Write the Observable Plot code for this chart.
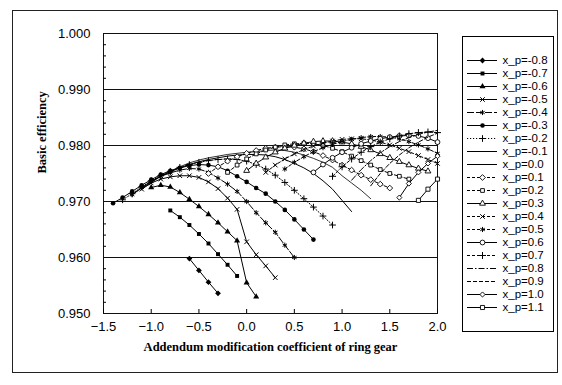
<!DOCTYPE html>
<html><head><meta charset="utf-8">
<script src="https://cdn.jsdelivr.net/npm/d3@7"></script>
<script src="https://cdn.jsdelivr.net/npm/@observablehq/plot@0.6"></script>
<style>
body{margin:0;background:#fff;}
#wrap{position:relative;width:562px;height:385px;overflow:hidden;}
#frame{position:absolute;left:12px;top:10px;width:546px;height:363px;border:1px solid #222;box-sizing:border-box;}
#chart{position:absolute;left:0;top:0;}
#legend{position:absolute;left:462px;top:36px;width:92px;height:296px;border:1px solid #000;box-sizing:border-box;background:#fff;}
#legend svg{position:absolute;left:0;top:0;}
</style></head><body>
<div id="wrap"><div id="frame"></div><div id="chart"></div><div id="legend"></div></div>
<script>
// ---- data ----
const xpLabels = ["x_p=-0.8","x_p=-0.7","x_p=-0.6","x_p=-0.5","x_p=-0.4","x_p=-0.3","x_p=-0.2","x_p=-0.1","x_p=0.0","x_p=0.1","x_p=0.2","x_p=0.3","x_p=0.4","x_p=0.5","x_p=0.6","x_p=0.7","x_p=0.8","x_p=0.9","x_p=1.0","x_p=1.1"];
const xGrid = [-1.4,-1.3,-1.2,-1.1,-1.0,-0.9,-0.8,-0.7,-0.6,-0.5,-0.4,-0.3,-0.2,-0.1,0.0,0.1,0.2,0.3,0.4,0.5,0.6,0.7,0.8,0.9,1.0,1.1,1.2,1.3,1.4,1.5,1.6,1.7,1.8,1.9,2.0];
const xStart = [-0.6,-0.8,-1.0,-1.1,-1.2,-1.4,-1.3,-1.2,-1.1,-0.4,-0.2,0.0,0.2,0.4,0.7,0.9,1.1,1.3,1.6,1.8];
const eff_m08 = [0.9598,0.9577,0.9556,0.9536];
const eff_m07 = [0.9684,0.9672,0.9658,0.9642,0.9625,0.9606,0.9587,0.9567];
const eff_m06 = [0.9725,0.9729,0.9726,0.9716,0.9704,0.9691,0.9677,0.9662,0.9646,0.9630,0.9555,0.9530];
const eff_m05 = [0.9722,0.9733,0.9740,0.9744,0.9746,0.9746,0.9743,0.9735,0.9723,0.9706,0.9686,0.9628,0.9605,0.9585,0.9564];
const eff_m04 = [0.9712,0.9725,0.9736,0.9745,0.9751,0.9756,0.9759,0.9758,0.9752,0.9742,0.9731,0.9718,0.9700,0.9680,0.9662,0.9645,0.9622,0.9600];
const eff_m03 = [0.9697,0.9707,0.9718,0.9729,0.9739,0.9748,0.9755,0.9760,0.9764,0.9766,0.9765,0.9762,0.9755,0.9745,0.9735,0.9724,0.9714,0.9700,0.9685,0.9668,0.9650,0.9632];
const eff_m02 = [0.9703,0.9714,0.9726,0.9737,0.9746,0.9754,0.9761,0.9766,0.9770,0.9773,0.9775,0.9776,0.9775,0.9772,0.9766,0.9758,0.9747,0.9734,0.9720,0.9705,0.9690,0.9674,0.9658];
const eff_m01 = [0.9712,0.9724,0.9735,0.9745,0.9753,0.9760,0.9766,0.9771,0.9775,0.9778,0.9781,0.9783,0.9784,0.9784,0.9783,0.9780,0.9775,0.9768,0.9760,0.9750,0.9737,0.9722,0.9702,0.9682];
const eff_000 = [0.9722,0.9734,0.9745,0.9754,0.9762,0.9769,0.9774,0.9778,0.9781,0.9784,0.9786,0.9788,0.9789,0.9791,0.9792,0.9791,0.9788,0.9783,0.9777,0.9770,0.9761,0.9746,0.9733,0.9720,0.9705];
const eff_p01 = [0.9750,0.9762,0.9772,0.9780,0.9786,0.9791,0.9795,0.9797,0.9798,0.9797,0.9794,0.9789,0.9782,0.9774,0.9765,0.9756,0.9747,0.9739,0.9731,0.9724];
const eff_p02 = [0.9752,0.9765,0.9776,0.9785,0.9792,0.9797,0.9801,0.9803,0.9804,0.9803,0.9800,0.9795,0.9789,0.9781,0.9773,0.9765,0.9757,0.9750,0.9745,0.9740];
const eff_p03 = [0.9755,0.9768,0.9779,0.9788,0.9795,0.9800,0.9804,0.9807,0.9808,0.9808,0.9806,0.9803,0.9798,0.9792,0.9785,0.9778,0.9771,0.9765,0.9759,0.9754];
const eff_p04 = [0.9752,0.9765,0.9776,0.9785,0.9793,0.9799,0.9804,0.9808,0.9811,0.9812,0.9812,0.9810,0.9806,0.9801,0.9795,0.9789,0.9782,0.9775,0.9768];
const eff_p05 = [0.9758,0.9770,0.9780,0.9789,0.9796,0.9802,0.9807,0.9811,0.9814,0.9816,0.9816,0.9815,0.9812,0.9807,0.9801,0.9794,0.9786];
const eff_p06 = [0.9752,0.9766,0.9778,0.9788,0.9796,0.9803,0.9808,0.9812,0.9815,0.9817,0.9818,0.9817,0.9813,0.9806];
const eff_p07 = [0.9745,0.9762,0.9776,0.9788,0.9798,0.9806,0.9812,0.9817,0.9821,0.9823,0.9824,0.9823];
const eff_p08 = [0.9738,0.9757,0.9773,0.9787,0.9798,0.9807,0.9814,0.9820,0.9824,0.9827];
const eff_p09 = [0.9728,0.9750,0.9768,0.9783,0.9796,0.9806,0.9815,0.9822];
const eff_p10 = [0.9707,0.9732,0.9752,0.9768,0.9781];
const eff_p11 = [0.9702,0.9722,0.9740];
const xTicks = [-1.5,-1.0,-0.5,0.0,0.5,1.0,1.5,2.0];
const yTicks = [0.95,0.96,0.97,0.98,0.99,1.0];
const yMinor = [0.952,0.954,0.956,0.958,0.962,0.964,0.966,0.968,0.972,0.974,0.976,0.978,0.982,0.984,0.986,0.988,0.992,0.994,0.996,0.998];
const xTitle = "Addendum modification coefficient of ring gear";
const yTitle = "Basic efficiency";

const seriesEff = [eff_m08,eff_m07,eff_m06,eff_m05,eff_m04,eff_m03,eff_m02,eff_m01,eff_000,eff_p01,eff_p02,eff_p03,eff_p04,eff_p05,eff_p06,eff_p07,eff_p08,eff_p09,eff_p10,eff_p11];

// ---- styles ----
const S = (sym, kind, r, dash) => ({sym, kind, r, dash});
const styles = [
  S("diamond2","fill",2.6,null),
  S("square2","fill",2.5,null),
  S("triangle2","fill",2.9,null),
  S("times","stroke",2.2,null),
  S("asterisk","stroke",2.4,"7,2"),
  S("circle","fill",2.3,null),
  S("plus","stroke",2.3,"1.2,1.8"),
  S(null,null,0,null),
  S(null,null,0,null),
  S("diamond2","open",2.6,"3,2"),
  S("square2","open",2.4,"3,2"),
  S("triangle2","open",2.8,null),
  S("times","stroke",2.2,"3,2"),
  S("asterisk","stroke",2.4,"3,2"),
  S("circle","open",2.4,null),
  S("plus","stroke",2.4,"3,2"),
  S(null,null,0,"6,2,1.5,2"),
  S(null,null,0,"4,2"),
  S("diamond2","open",2.3,null),
  S("square2","open",2.6,null)
];
function dotOpts(st, extra) {
  const o = {symbol: st.sym, r: st.r, ...extra};
  if (st.kind === "fill") { o.fill = "black"; o.stroke = "none"; }
  else if (st.kind === "open") { o.fill = "white"; o.stroke = "black"; o.strokeWidth = 0.9; }
  else { o.fill = "none"; o.stroke = "black"; o.strokeWidth = 1; }
  return o;
}

const seriesData = seriesEff.map((ys, i) => {
  const k0 = xGrid.indexOf(xStart[i]);
  return ys.map((v, j) => ({s: xpLabels[i], x: xGrid[k0 + j], y: v}));
});

const marks = [
  Plot.ruleY(yTicks, {stroke: "#111", strokeWidth: 1}),
  Plot.frame({stroke: "#111", strokeWidth: 1}),
  Plot.axisY({ticks: yTicks, tickSize: 0, tickPadding: 13, tickFormat: d3.format(".3f"), label: null, fontSize: 13}),
  Plot.axisY({ticks: yMinor, tickSize: 3, dx: 3, tickFormat: () => "", label: null}),
  Plot.axisX({ticks: xTicks, tickSize: 0, tickPadding: 8, tickFormat: d3.format(".1f"), label: null, fontSize: 13}),
  Plot.axisX({ticks: xTicks, tickSize: 4, dy: -4, tickFormat: () => "", label: null}),
  Plot.text([yTitle], {frameAnchor: "left", rotate: -90, dx: -62, fontFamily: "'Liberation Serif', 'Times New Roman', serif", fontWeight: "bold", fontSize: 12.5}),
  Plot.text([xTitle], {frameAnchor: "bottom", dy: 37, fontFamily: "'Liberation Serif', 'Times New Roman', serif", fontWeight: "bold", fontSize: 12.5})
];
seriesData.forEach((data, i) => {
  const st = styles[i];
  marks.push(Plot.line(data, {x: "x", y: "y", stroke: "black", strokeWidth: i === 8 ? 0.8 : 1, strokeDasharray: st.dash || undefined}));
  if (st.sym) marks.push(Plot.dot(data, dotOpts(st, {x: "x", y: "y"})));
});

const chart = Plot.plot({
  width: 562, height: 385,
  marginLeft: 103, marginRight: 125, marginTop: 33, marginBottom: 72,
  style: {fontFamily: "'Liberation Sans', Arial, sans-serif", fontSize: "12.5px", background: "transparent", color: "black", overflow: "visible"},
  x: {domain: [-1.5, 2.0]},
  y: {domain: [0.95, 1.0]},
  marks
});
document.getElementById("chart").appendChild(chart);

// ---- legend ----
const lmarks = [];
xpLabels.forEach((lab, i) => {
  const st = styles[i];
  lmarks.push(Plot.ruleY([lab], {y: d => d, insetLeft: 4, insetRight: 56, stroke: "black", strokeWidth: 1, strokeDasharray: st.dash || undefined}));
  if (st.sym) lmarks.push(Plot.dot([lab], dotOpts(st, {y: d => d, frameAnchor: "left", dx: 19})));
});
lmarks.push(Plot.text(xpLabels, {y: d => d, frameAnchor: "left", dx: 39, textAnchor: "start", fontSize: 11.5}));
const legend = Plot.plot({
  width: 90, height: 294,
  margin: 0,
  y: {type: "point", domain: xpLabels, range: [7, 286], axis: null},
  style: {fontFamily: "'Liberation Sans', Arial, sans-serif", fontSize: "11.5px", background: "transparent", color: "black"},
  marks: lmarks
});
document.getElementById("legend").appendChild(legend);
</script>
</body></html>
